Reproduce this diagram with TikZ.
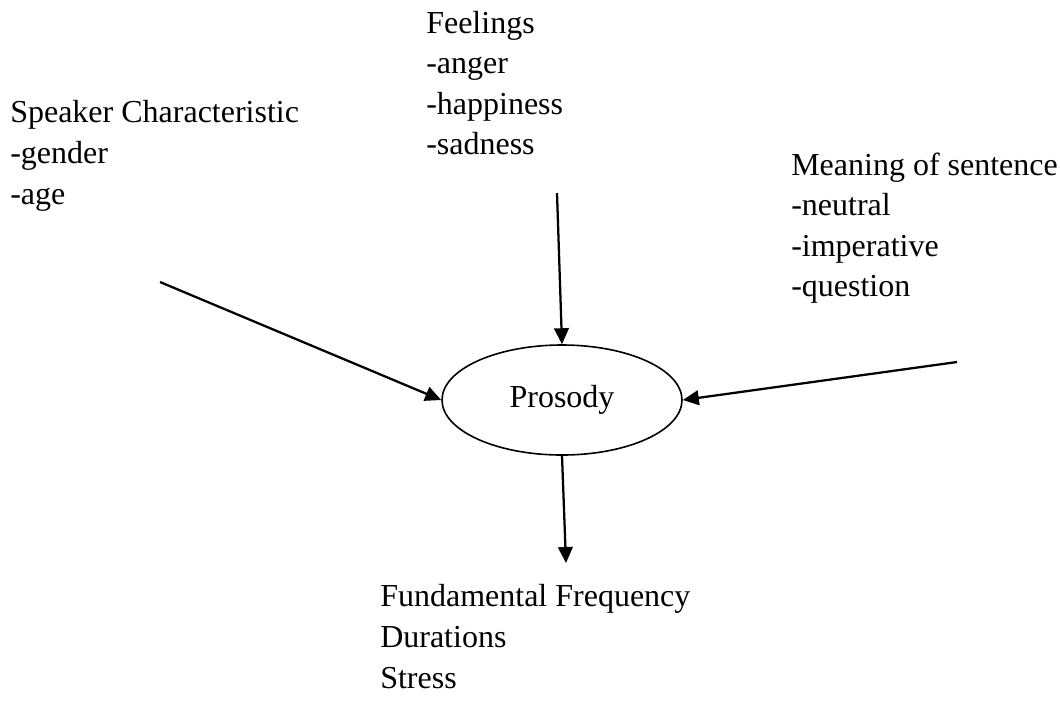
\documentclass[tikz,border=0pt]{standalone}
\usepackage{fontspec}
\setmainfont{Liberation Serif}
\usetikzlibrary{arrows.meta,shapes.geometric}
\begin{document}
\begin{tikzpicture}[x=0.75pt,y=-0.75pt,
  txt/.style={anchor=base west,inner sep=0pt,font=\fontsize{24}{28}\selectfont},
  conn/.style={line width=1.7pt,-{Triangle[length=12pt,width=11pt]}},
  oval/.style={ellipse,draw,line width=1.2pt,minimum width=180pt,minimum height=82.5pt,inner sep=0pt,font=\fontsize{24}{28}\selectfont}]
\useasboundingbox (0,0) rectangle (1060,719);
% Speaker
\node[txt] (s1) at (10,122) {Speaker Characteristic};
\node[txt] (s2) at (10,163) {-gender};
\node[txt] (s3) at (10,204) {-age};
% Feelings
\node[txt] (f1) at (426,33) {Feelings};
\node[txt] (f2) at (426,73) {-anger};
\node[txt] (f3) at (426,114) {-happiness};
\node[txt] (f4) at (426,154) {-sadness};
% Meaning
\node[txt] (m1) at (791,175) {Meaning of sentence};
\node[txt] (m2) at (791,215) {-neutral};
\node[txt] (m3) at (791,256) {-imperative};
\node[txt] (m4) at (791,296) {-question};
% Output
\node[txt] (o1) at (380,606) {Fundamental Frequency};
\node[txt] (o2) at (380,647) {Durations};
\node[txt] (o3) at (380,688) {Stress};
% Prosody
\node[oval] (p) at (562,400) {Prosody};
% connector ends
\coordinate (cs) at (160,282);
\coordinate (cf) at (557,193);
\coordinate (cm) at (957,362);
\coordinate (co) at (566,563);
\draw[conn] (cs) -- (p.west);
\draw[conn] (cf) -- (p.north);
\draw[conn] (cm) -- (p.east);
\draw[conn] (p.south) -- (co);
\end{tikzpicture}
\end{document}
